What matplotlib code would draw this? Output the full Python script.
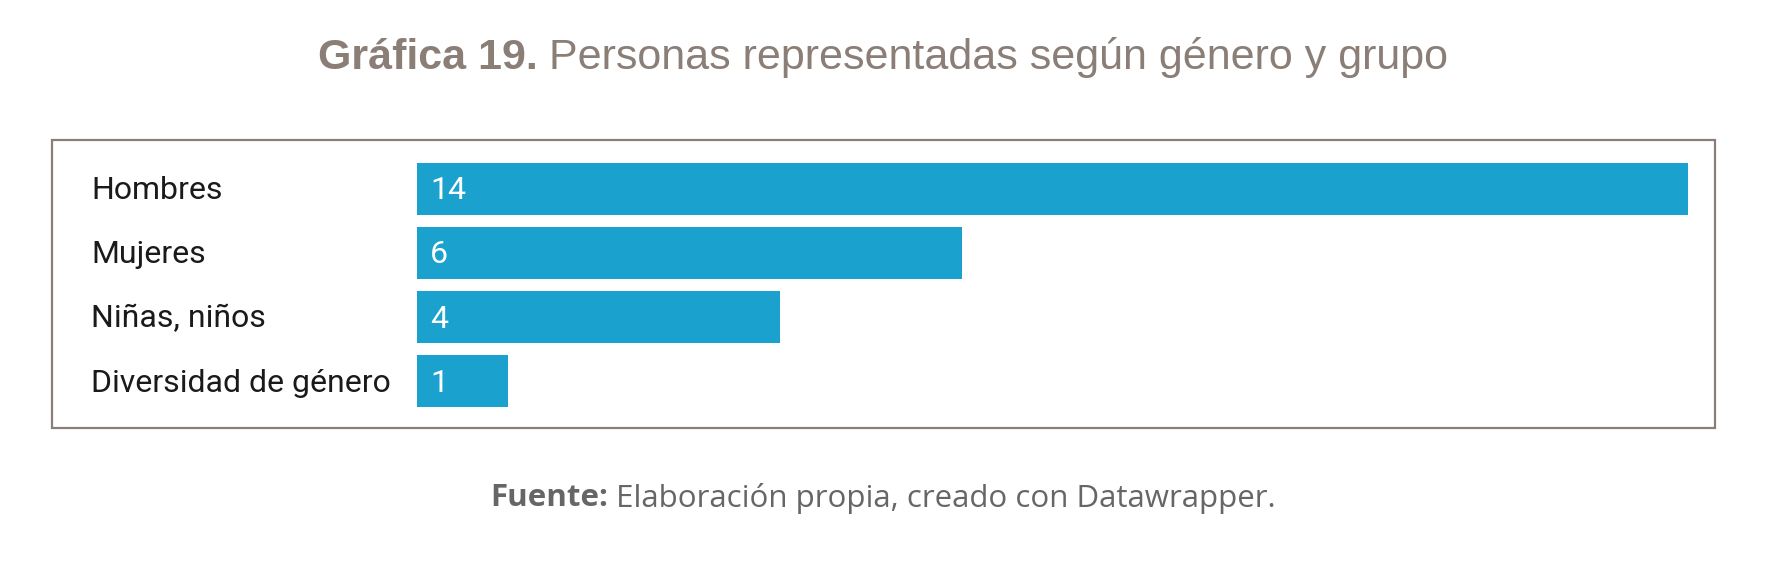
import matplotlib
matplotlib.use("Agg")
import matplotlib.pyplot as plt
from matplotlib.patches import Rectangle
from matplotlib.transforms import blended_transform_factory, offset_copy

categories = ["Hombres", "Mujeres", "Niñas, niños", "Diversidad de género"]
values = [14, 6, 4, 1]

title_bold = "Gráfica 19."
title_rest = " Personas representadas según género y grupo"
source_bold = "Fuente:"
source_rest = " Elaboración propia, creado con Datawrapper."

W, H = 1766, 563
BAR = "#1aa1cd"
BROWN = "#8a7e77"

fig = plt.figure(figsize=(W / 100, H / 100), dpi=100)


def px(x, y):
    # pixel (top-left origin) -> figure fraction
    return x / W, 1 - y / H


# outer frame
x0, y0 = px(52, 428)
x1, y1 = px(1715, 140)
fig.patches.append(Rectangle((x0, y0), x1 - x0, y1 - y0, transform=fig.transFigure,
                             fill=False, edgecolor=BROWN, linewidth=1.6))

# bar axes
left, bottom = px(417, 407)
right, top = px(1688, 163)
ax = fig.add_axes([left, bottom, right - left, top - bottom])
ypos = list(range(len(categories)))
bh = 0.81
ax.barh(ypos, values, height=bh, color=BAR)
ax.set_xlim(0, max(values))
ax.set_ylim(len(categories) - 1 + bh / 2, -bh / 2)
ax.axis("off")

lab_tr = offset_copy(blended_transform_factory(fig.transFigure, ax.transData),
                     fig=fig, y=-2, units="dots")
val_tr = offset_copy(ax.transData, fig=fig, x=13, y=-2, units="dots")
for y, c, v in zip(ypos, categories, values):
    ax.text(91 / W, y, c, transform=lab_tr, ha="left", va="center",
            fontsize=23, family="Roboto", color="#1a1a1a")
    ax.text(0, y, str(v), transform=val_tr, ha="left", va="center",
            fontsize=23, family="Roboto", color="white")


def centered_pair(bold, rest, y, size, family, color):
    t1 = fig.text(0, y, bold, fontsize=size, family=family, weight="bold",
                  color=color, va="center", ha="left")
    t2 = fig.text(0, y, rest, fontsize=size, family=family, color=color,
                  va="center", ha="left")
    r = fig.canvas.get_renderer()
    w1 = t1.get_window_extent(r).width / W
    w2 = t2.get_window_extent(r).width / W
    start = 0.5 - (w1 + w2) / 2
    t1.set_x(start)
    t2.set_x(start + w1)


centered_pair(title_bold, title_rest, px(0, 58)[1], 31, "Liberation Sans", BROWN)
centered_pair(source_bold, source_rest, px(0, 498)[1], 22.5, "Open Sans", "#666666")

fig.savefig("out.png", dpi=100)
